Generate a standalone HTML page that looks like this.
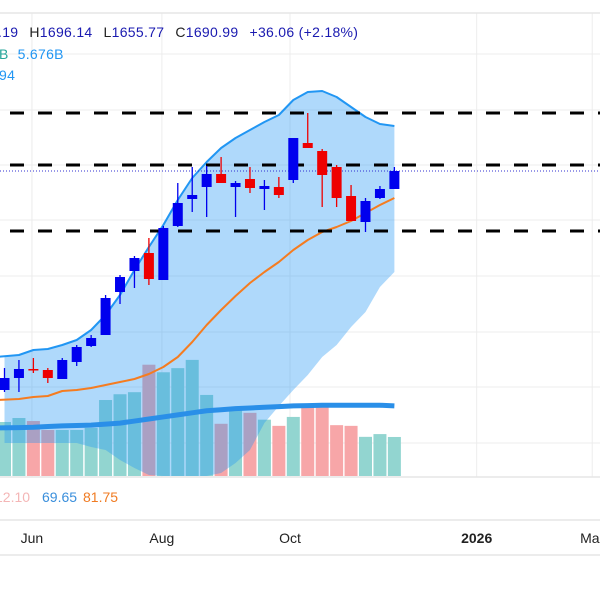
<!DOCTYPE html>
<html><head><meta charset="utf-8">
<style>
html,body{margin:0;padding:0;background:#fff;width:600px;height:600px;overflow:hidden}
svg{display:block;font-family:"Liberation Sans","DejaVu Sans",sans-serif}
</style></head>
<body>
<svg id="chart" width="600" height="600" viewBox="0 0 600 600">
  <g id="grid"></g>
  <g id="volume"></g>
  <g id="bands"></g>
  <g id="levels"></g>
  <g id="candles"></g>
  <g font-size="14" letter-spacing="0.3">
    <text x="-2" y="37" fill="#1a1ab0"><tspan fill="#1a1ab0">.19</tspan><tspan fill="#222" dx="11">H</tspan><tspan fill="#1a1ab0">1696.14</tspan><tspan fill="#222" dx="11">L</tspan><tspan fill="#1a1ab0">1655.77</tspan><tspan fill="#222" dx="11">C</tspan><tspan fill="#1a1ab0">1690.99</tspan><tspan fill="#1a1ab0" dx="11">+36.06 (+2.18%)</tspan></text>
    <text x="-1" y="59"><tspan fill="#26a69a">B</tspan><tspan fill="#2196f3" dx="9">5.676B</tspan></text>
    <text x="-1" y="80" fill="#2196f3">94</text>
  </g>
  <g font-size="14">
    <text x="-5" y="502" fill="#f4b6b6">12.10</text>
    <text x="42" y="502" fill="#3a8fdc">69.65</text>
    <text x="83" y="502" fill="#f07b22">81.75</text>
  </g>
  <g id="timeaxis" font-size="14" fill="#222"></g>
</svg>
<script>
// ---- data ----
const opens  = [1253,1277,1295,1293,1275,1309,1341,1363,1449,1491,1527,1473,1581,1635,1659,1685,1659,1675,1655,1659,1673,1747,1731,1699,1641,1589,1637,1655];
const highs  = [1297,1313,1317,1297,1317,1343,1363,1443,1483,1521,1557,1581,1667,1699,1701,1719,1671,1699,1673,1679,1757,1807,1735,1703,1663,1637,1661,1699];
const lows   = [1249,1249,1287,1267,1275,1301,1339,1363,1425,1457,1463,1473,1579,1609,1599,1667,1599,1647,1613,1637,1667,1737,1619,1619,1591,1569,1635,1655];
const closes = [1277,1295,1293,1277,1313,1339,1357,1437,1479,1517,1475,1577,1627,1643,1685,1667,1667,1657,1661,1643,1757,1737,1683,1637,1591,1631,1655,1691];
const bbUpper = [1319,1323,1333,1335,1343,1353,1373,1403,1443,1493,1539,1583,1633,1677,1709,1737,1757,1773,1789,1803,1833,1849,1851,1839,1819,1799,1785,1781];
const bbMiddle= [1233,1235,1239,1241,1251,1253,1257,1263,1269,1275,1285,1299,1319,1349,1383,1413,1441,1467,1489,1509,1533,1553,1569,1579,1591,1607,1623,1637];
const bbLower = [1147,1147,1147,1147,1147,1147,1139,1133,1113,1097,1083,1073,1067,1067,1073,1087,1107,1133,1187,1221,1253,1283,1319,1343,1379,1409,1459,1489];
const volumes = [7.86,8.44,8.0,6.7,6.7,6.7,7.0,11.06,11.9,12.2,16.2,15.1,15.7,16.9,11.8,7.6,9.9,9.2,8.2,7.3,8.6,10.0,10.0,7.4,7.3,5.7,6.1,5.68];
const volMA   = [7.0,7.05,7.1,7.2,7.3,7.35,7.4,7.55,7.7,8.0,8.3,8.6,8.9,9.2,9.5,9.65,9.8,9.9,10.0,10.1,10.2,10.25,10.3,10.3,10.3,10.3,10.3,10.2];
const levels  = [1807,1703,1571];
const lastPrice = 1691;
const timeLabels = ["Jun","Aug","Oct","2026","Mar"];
const timeLabelIdx = [1.9,10.9,19.77,32.7,40.7];
const priceGrid = [1925,1813,1703,1593,1481,1369,1259,1147];

// ---- scales ----
const x = i => 4.5 + i*14.44;
const y = p => 171 - (p - 1691)*0.5;
const vy = v => 476 - v*6.87;
const NS = "http://www.w3.org/2000/svg";
function mk(tag, attrs, parent){const e=document.createElementNS(NS,tag);for(const k in attrs)e.setAttribute(k,attrs[k]);parent.appendChild(e);return e;}

// grid
const grid=document.getElementById('grid');
priceGrid.forEach(p=>{
  const l=mk('line',{x1:0,x2:600,y1:y(p),y2:y(p),stroke:'#ececec','stroke-width':1},grid);
  
  
});
timeLabelIdx.forEach(i=>{
  const l=mk('line',{x1:x(i),x2:x(i),y1:13,y2:477,stroke:'#ececec','stroke-width':1},grid);
  
  
});
[13,477].forEach(yy=>{const l=mk('line',{x1:0,x2:600,y1:yy,y2:yy,stroke:'#e6e6e6','stroke-width':1.5},grid);
  
  });
[520,555].forEach(yy=>{const l=mk('line',{x1:0,x2:600,y1:yy,y2:yy,stroke:'#e6e6e6','stroke-width':1.5},grid);
  
  });

// volume
const vol=document.getElementById('volume');
volumes.forEach((v,i)=>{
  const up=closes[i]>=opens[i];
  const r=mk('rect',{x:x(i)-6.5,y:vy(v),width:13,height:476-vy(v),fill:up?'#92d5d0':'#f7a6a8'},vol);
  
  
});

// bands
const bands=document.getElementById('bands');
let d='M'+bbUpper.map((p,i)=>x(i)+','+y(p)).join(' L');
for(let i=bbLower.length-1;i>=0;i--) d+=' L'+x(i)+','+Math.min(y(bbLower[i]),476);
d+=' Z';
const fill=mk('path',{d:d,fill:'rgba(33,150,243,0.36)',stroke:'none'},bands);


const ma=mk('path',{d:'M'+volMA.map((v,i)=>(i===0?-4:x(i))+','+vy(v)).join(' L'),fill:'none',stroke:'#2a8fe8','stroke-width':5,'stroke-linejoin':'round'},bands);


const up=mk('path',{d:'M'+bbUpper.map((p,i)=>(i===0?-4:x(i))+','+y(p)).join(' L'),fill:'none',stroke:'#2196f3','stroke-width':2,'stroke-linejoin':'round'},bands);


const mid=mk('path',{d:'M'+bbMiddle.map((p,i)=>(i===0?-4:x(i))+','+y(p)).join(' L'),fill:'none',stroke:'#f57c20','stroke-width':2,'stroke-linejoin':'round'},bands);



// levels
const lv=document.getElementById('levels');
levels.forEach(p=>{
  const l=mk('line',{x1:10,x2:600,y1:y(p),y2:y(p),stroke:'#000','stroke-width':3,'stroke-dasharray':'14 14'},lv);
  
  
});
const pl=mk('line',{x1:0,x2:600,y1:y(lastPrice),y2:y(lastPrice),stroke:'#3030d0','stroke-width':1,'stroke-dasharray':'1 2'},lv);



// candles
const cg=document.getElementById('candles');
opens.forEach((o,i)=>{
  const c=closes[i], isUp=c>=o, col=isUp?'#0000ee':'#ee0000';
  const g=mk('g',{},cg);
  
  
  mk('line',{x1:x(i),x2:x(i),y1:y(highs[i]),y2:y(lows[i]),stroke:col,'stroke-width':1.3},g);
  const top=y(Math.max(o,c)), h=Math.max(Math.abs(y(o)-y(c)),1.5);
  mk('rect',{x:x(i)-5,y:top,width:10,height:h,fill:col},g);
});

// time axis
const ta=document.getElementById('timeaxis');
timeLabels.forEach((t,i)=>{
  const tx=mk('text',{x:x(timeLabelIdx[i]),y:543,'text-anchor':'middle','font-weight':t==='2026'?'bold':'normal'},ta);
  tx.textContent=t;
  
  
});
</script>
</body></html>
